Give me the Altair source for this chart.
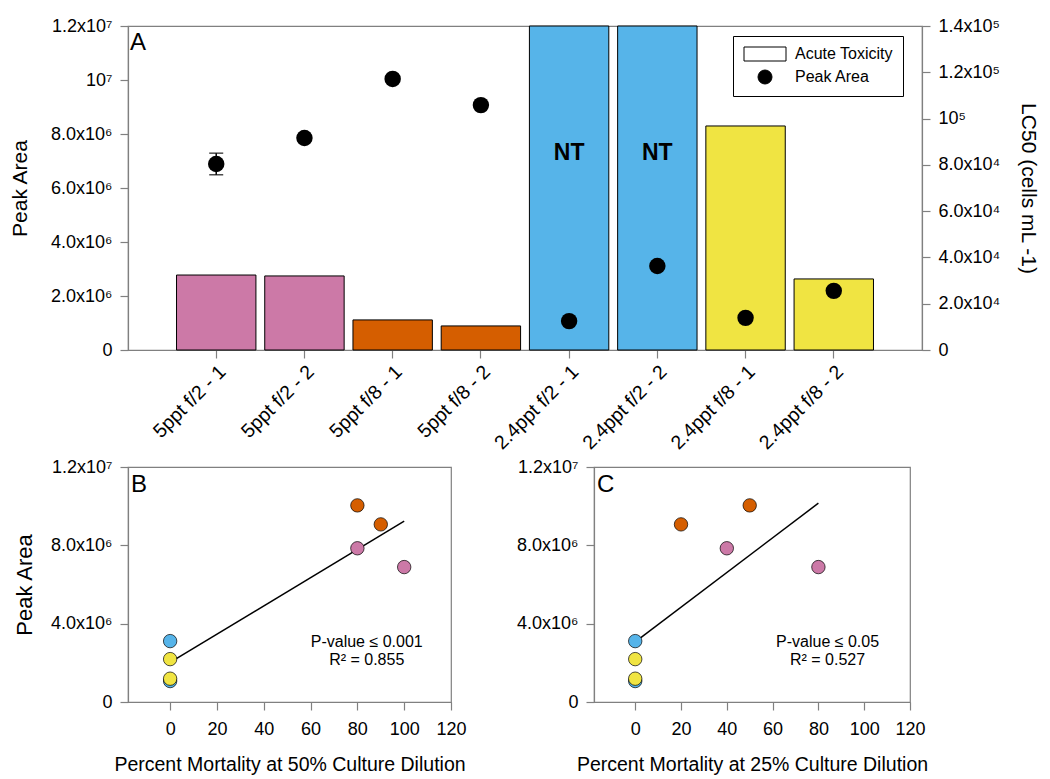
import altair as alt
import pandas as pd

# ---------------- data ----------------
categories = ["5ppt f/2 - 1", "5ppt f/2 - 2", "5ppt f/8 - 1", "5ppt f/8 - 2",
              "2.4ppt f/2 - 1", "2.4ppt f/2 - 2", "2.4ppt f/8 - 1", "2.4ppt f/8 - 2"]
groups = ["5ppt f/2", "5ppt f/2", "5ppt f/8", "5ppt f/8",
          "2.4ppt f/2", "2.4ppt f/2", "2.4ppt f/8", "2.4ppt f/8"]
group_names = ["5ppt f/2", "5ppt f/8", "2.4ppt f/2", "2.4ppt f/8"]
group_colors = ["#CC79A7", "#D55E00", "#56B4E9", "#F0E442"]

lc50 = [32400, 32000, 13000, 10400, 140000, 140000, 96800, 30700]
peak_area = [6890000, 7850000, 10040000, 9070000, 1070000, 3110000, 1190000, 2190000]
peak_err = [400000, 100000, 100000, 100000, 60000, 60000, 60000, 60000]
mort50 = [100, 80, 80, 90, 0, 0, 0, 0]
mort25 = [80, 40, 50, 20, 0, 0, 0, 0]
nt_flags = ["", "", "", "", "NT", "NT", "", ""]
nt_level = 85000

left_ticks = [0, 2000000, 4000000, 6000000, 8000000, 10000000, 12000000]
left_labels = ["0", "2.0x10⁶", "4.0x10⁶", "6.0x10⁶", "8.0x10⁶", "10⁷", "1.2x10⁷"]
right_ticks = [0, 20000, 40000, 60000, 80000, 100000, 120000, 140000]
right_labels = ["0", "2.0x10⁴", "4.0x10⁴", "6.0x10⁴", "8.0x10⁴", "10⁵", "1.2x10⁵", "1.4x10⁵"]
sc_y_ticks = [0, 4000000, 8000000, 12000000]
sc_y_labels = ["0", "4.0x10⁶", "8.0x10⁶", "1.2x10⁷"]
sc_x_ticks = [0, 20, 40, 60, 80, 100, 120]

legend_items = ["Acute Toxicity", "Peak Area"]
legend_shapes = ["M-3,-1H3V1H-3Z", "circle"]
legend_fills = ["white", "black"]

stats_B = ["P-value ≤ 0.001", "R² = 0.855"]
stats_C = ["P-value ≤ 0.05", "R² = 0.527"]
stats_x = [84, 84]
stats_y = [3050000, 2150000]
reg_extent_B = [0, 100]
reg_extent_C = [0, 80]

FONT = "Liberation Sans"
GRAY = "#808080"


def label_expr(vals, labels):
    parts = [f"datum.value == {v} ? '{l}'" for v, l in zip(vals, labels)]
    return " : ".join(parts) + " : ''"


df = pd.DataFrame({
    "cat": categories, "grp": groups, "lc50": lc50, "peak": peak_area,
    "lo": [p - e for p, e in zip(peak_area, peak_err)],
    "hi": [p + e for p, e in zip(peak_area, peak_err)],
    "m50": mort50, "m25": mort25, "nt": nt_flags,
})

fill_scale = alt.Scale(domain=group_names, range=group_colors)

# ---------------- panel A ----------------
xA = alt.X("cat:N", sort=categories,
           scale=alt.Scale(paddingInner=0.1, paddingOuter=0.55),
           axis=alt.Axis(title=None, labelAngle=-45, labelFontSize=19.5,
                         labelPadding=4))

right_axis = alt.Axis(orient="right", values=right_ticks,
                      labelExpr=label_expr(right_ticks, right_labels),
                      labelPadding=8,
                      title="LC50 (cells mL -1)", titleAngle=90, titleFontSize=21,
                      titlePadding=18)
yR = dict(scale=alt.Scale(domain=[0, 140000], nice=False), axis=right_axis)

left_axis = alt.Axis(orient="left", values=left_ticks,
                     labelExpr=label_expr(left_ticks, left_labels),
                     labelPadding=8,
                     title="Peak Area", titleFontSize=21, titlePadding=20)
yL_scale = alt.Scale(domain=[0, 12000000], nice=False)

base = alt.Chart(df)

bars = base.mark_bar(stroke="black", strokeWidth=1).encode(
    x=xA,
    y=alt.Y("lc50:Q", **yR),
    fill=alt.Fill("grp:N", scale=fill_scale, legend=None),
)
nt_text = base.transform_filter(alt.datum.nt != "").mark_text(
    fontWeight="bold", fontSize=23, font=FONT, baseline="middle", color="black"
).encode(x=xA, y=alt.Y(datum=nt_level, **yR), text="nt:N")

err_rule = base.mark_rule(color="black", strokeWidth=1.5).encode(
    x=xA, y=alt.Y("lo:Q", scale=yL_scale, axis=left_axis), y2="hi:Q")
cap_lo = base.mark_tick(color="black", size=14, thickness=1.5).encode(
    x=xA, y=alt.Y("lo:Q", scale=yL_scale, axis=left_axis))
cap_hi = base.mark_tick(color="black", size=14, thickness=1.5).encode(
    x=xA, y=alt.Y("hi:Q", scale=yL_scale, axis=left_axis))
pts = base.mark_point(filled=True, color="black", size=270, opacity=1).encode(
    x=xA, y=alt.Y("peak:Q", scale=yL_scale, axis=left_axis))

leg_df = pd.DataFrame({"item": legend_items})
legend_def = alt.Legend(title=None, orient="none", legendX=605, legendY=10,
                        strokeColor="black", fillColor="white", padding=10,
                        labelFontSize=16, labelFont=FONT, symbolSize=196,
                        symbolStrokeColor="black", symbolStrokeWidth=1,
                        symbolOffset=14, labelOffset=22, rowPadding=5)
leg_layer = alt.Chart(leg_df).transform_filter(alt.datum.item == "__none__").mark_point(
    filled=True, size=196, stroke="black", strokeWidth=1, opacity=1
).encode(
    shape=alt.Shape("item:N", scale=alt.Scale(domain=legend_items, range=legend_shapes),
                    legend=legend_def),
    color=alt.Color("item:N", scale=alt.Scale(domain=legend_items, range=legend_fills),
                    legend=legend_def),
)

panelA_label = alt.Chart(pd.DataFrame({"panel": ["A"]})).mark_text(
    align="left", baseline="top", fontSize=24, font=FONT, color="black"
).encode(x=alt.value(2), y=alt.value(5), text="panel:N")

grp_bars = alt.layer(bars, nt_text)
grp_pts = alt.layer(err_rule, cap_lo, cap_hi, pts, leg_layer, panelA_label)
top = alt.layer(grp_bars, grp_pts).resolve_scale(y="independent").properties(
    width=794, height=324)


# ---------------- panels B, C ----------------
def scatter(xfield, xtitle, stats, extent, panel, ytitle, width):
    sx = alt.X(f"{xfield}:Q", scale=alt.Scale(domain=[-18, 120], nice=False),
               axis=alt.Axis(values=sc_x_ticks, title=xtitle, titleFontSize=19.5,
                             titlePadding=17, labelPadding=10, labelFlush=False))
    sy = alt.Y("peak:Q", scale=alt.Scale(domain=[0, 12000000], nice=False),
               axis=alt.Axis(values=sc_y_ticks,
                             labelExpr=label_expr(sc_y_ticks, sc_y_labels),
                             labelPadding=8,
                             title=ytitle, titleFontSize=22, titlePadding=14))
    line = base.transform_regression(xfield, "peak", extent=extent).mark_line(
        color="black", strokeWidth=1.5).encode(x=sx, y=sy)
    dots = base.mark_circle(size=180, opacity=1, stroke="black", strokeWidth=0.7).encode(
        x=sx, y=sy, fill=alt.Fill("grp:N", scale=fill_scale, legend=None))
    sdf = pd.DataFrame({"sx": stats_x, "sy": stats_y, "label": stats})
    txt = alt.Chart(sdf).mark_text(fontSize=16, font=FONT, color="black").encode(
        x=alt.X("sx:Q"), y=alt.Y("sy:Q"), text="label:N")
    lab = alt.Chart(pd.DataFrame({"panel": [panel]})).mark_text(
        align="left", baseline="top", fontSize=24, font=FONT, color="black"
    ).encode(x=alt.value(3), y=alt.value(6), text="panel:N")
    return alt.layer(line, dots, txt, lab).properties(width=width, height=235)


chartB = scatter("m50", "Percent Mortality at 50% Culture Dilution", stats_B,
                 reg_extent_B, "B", "Peak Area", 323)
chartC = scatter("m25", "Percent Mortality at 25% Culture Dilution", stats_C,
                 reg_extent_C, "C", None, 316)

bottom = alt.hconcat(chartB, chartC, spacing=48)

chart = alt.vconcat(top, bottom, spacing=3).configure(
    font=FONT
).configure_axis(
    labelFont=FONT, titleFont=FONT, labelFontSize=18, labelColor="black",
    titleColor="black", titleFontWeight="normal", domainColor=GRAY, tickColor=GRAY,
    tickSize=8, grid=False, domainWidth=1.2, tickWidth=1.2,
).configure_view(stroke=GRAY, strokeWidth=1.2).properties(
    padding={"left": 0, "top": 8, "right": 0, "bottom": 0}
)

chart.save("out.html", embed_options={"renderer": "svg", "actions": False})
